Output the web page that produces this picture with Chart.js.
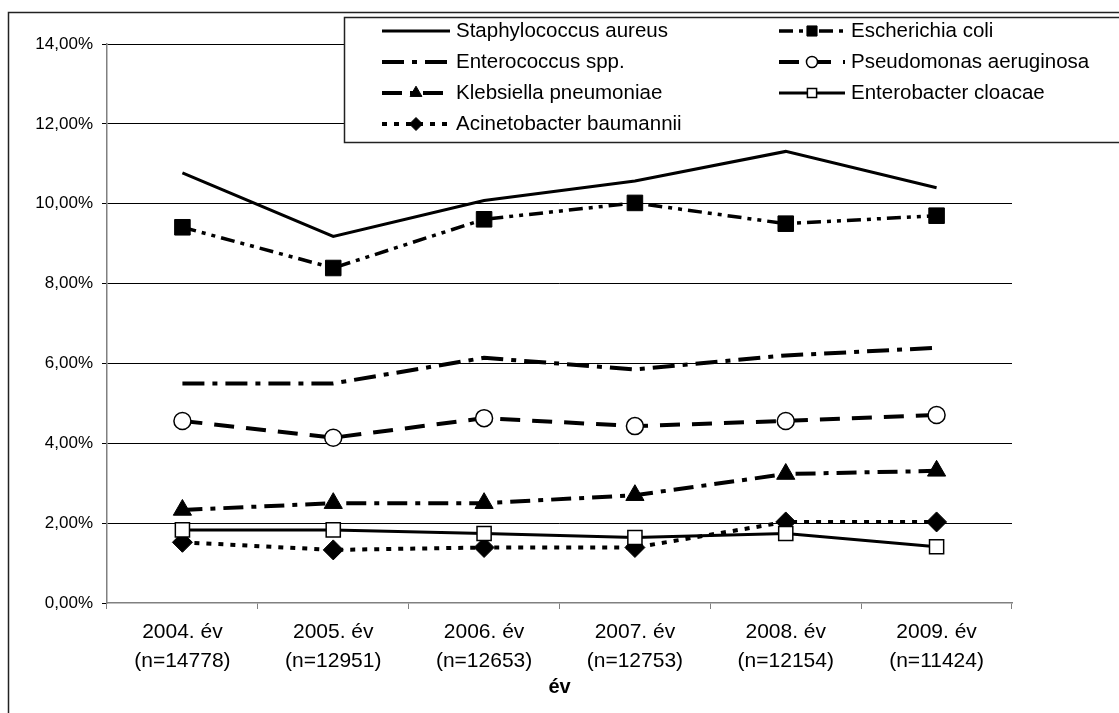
<!DOCTYPE html>
<html lang="hu">
<head>
<meta charset="utf-8">
<title>Kórokozók aránya évenként</title>
<script src="https://cdn.jsdelivr.net/npm/chart.js@4.4.1/dist/chart.umd.min.js"></script>
<style>
    html, body { margin: 0; padding: 0; background: #fff; overflow: hidden; }
    canvas { display: block; }
</style>
</head>
<body>
<canvas id="grafikon" width="1119" height="713"></canvas>
<script>
// =========================
// ADATOK (%)
// =========================
const evek = ['2004. év', '2005. év', '2006. év', '2007. év', '2008. év', '2009. év'];
const esetszamok = ['(n=14778)', '(n=12951)', '(n=12653)', '(n=12753)', '(n=12154)', '(n=11424)'];
const yTickErtekek = [0, 2, 4, 6, 8, 10, 12, 14];

const staphylococcus = [10.77, 9.18, 10.08, 10.57, 11.31, 10.40];
const escherichia = [9.41, 8.39, 9.61, 10.02, 9.50, 9.70];
const enterococcus = [5.50, 5.50, 6.14, 5.85, 6.20, 6.39];
const pseudomonas = [4.56, 4.14, 4.63, 4.43, 4.56, 4.71];
const klebsiella = [2.33, 2.50, 2.50, 2.70, 3.23, 3.31];
const enterobacter = [1.83, 1.83, 1.74, 1.64, 1.74, 1.41];
const acinetobacter = [1.52, 1.33, 1.39, 1.39, 2.03, 2.03];

const betu = '"Liberation Sans", Arial, sans-serif';

// =========================
// JELMAGYARÁZAT + KERET
// =========================
const jelmagyarazat = {
    id: 'jelmagyarazat',
    afterDraw(chart) {
        const ctx = chart.ctx;
        ctx.save();

        // külső keret
        ctx.strokeStyle = '#222';
        ctx.lineWidth = 1.5;
        ctx.strokeRect(8.5, 12.5, 1400, 1000);

        // doboz
        ctx.fillStyle = '#fff';
        ctx.fillRect(344, 17, 900, 126);
        ctx.strokeRect(344.5, 17.5, 900, 125);

        ctx.font = '20.5px ' + betu;
        ctx.textBaseline = 'middle';
        ctx.textAlign = 'left';

        chart.data.datasets.forEach((ds, i) => {
            const oszlop = i % 2;
            const sor = Math.floor(i / 2);
            const x0 = oszlop ? 779 : 382;
            const x1 = oszlop ? 845 : 450;
            const y = 31 + sor * 31;

            ctx.beginPath();
            ctx.setLineDash(ds.borderDash || []);
            ctx.lineWidth = ds.borderWidth;
            ctx.strokeStyle = ds.borderColor;
            ctx.moveTo(x0, y);
            ctx.lineTo(x1, y);
            ctx.stroke();
            ctx.setLineDash([]);

            if (ds.pointRadius > 0) {
                ctx.fillStyle = ds.pointBackgroundColor;
                ctx.strokeStyle = ds.pointBorderColor;
                ctx.lineWidth = ds.pointBorderWidth;
                Chart.helpers.drawPoint(ctx, {
                    pointStyle: ds.pointStyle,
                    radius: ds.pointRadius * 0.65,
                    borderWidth: ds.pointBorderWidth,
                    rotation: 0
                }, (x0 + x1) / 2, y);
            }

            ctx.fillStyle = '#000';
            ctx.fillText(ds.label, x1 + 6, y);
        });
        ctx.restore();
    }
};

// =========================
// GRAFIKON
// =========================
const ctx = document.getElementById('grafikon').getContext('2d');

new Chart(ctx, {
    type: 'line',
    data: {
        labels: evek.map((ev, i) => [ev, esetszamok[i]]),
        datasets: [
            {
                label: 'Staphylococcus aureus',
                data: staphylococcus,
                borderColor: '#000',
                borderWidth: 3,
                pointRadius: 0
            },
            {
                label: 'Escherichia coli',
                data: escherichia,
                borderColor: '#000',
                borderWidth: 3.5,
                borderDash: [14, 6, 4, 6, 4, 6],
                pointStyle: 'rect',
                pointRadius: 11,
                pointBackgroundColor: '#000',
                pointBorderColor: '#000',
                pointBorderWidth: 1
            },
            {
                label: 'Enterococcus spp.',
                data: enterococcus,
                borderColor: '#000',
                borderWidth: 4,
                borderDash: [22, 8, 5, 8],
                pointRadius: 0
            },
            {
                label: 'Pseudomonas aeruginosa',
                data: pseudomonas,
                borderColor: '#000',
                borderWidth: 4,
                borderDash: [20, 12],
                pointStyle: 'circle',
                pointRadius: 8.5,
                pointBackgroundColor: '#fff',
                pointBorderColor: '#000',
                pointBorderWidth: 1.5
            },
            {
                label: 'Klebsiella pneumoniae',
                data: klebsiella,
                borderColor: '#000',
                borderWidth: 4,
                borderDash: [20, 8, 5, 8],
                pointStyle: 'triangle',
                pointRadius: 10.5,
                pointBackgroundColor: '#000',
                pointBorderColor: '#000',
                pointBorderWidth: 1
            },
            {
                label: 'Enterobacter cloacae',
                data: enterobacter,
                borderColor: '#000',
                borderWidth: 3,
                pointStyle: 'rect',
                pointRadius: 10,
                pointBackgroundColor: '#fff',
                pointBorderColor: '#000',
                pointBorderWidth: 1.5
            },
            {
                label: 'Acinetobacter baumannii',
                data: acinetobacter,
                borderColor: '#000',
                borderWidth: 4,
                borderDash: [5, 7],
                pointStyle: 'rectRot',
                pointRadius: 10,
                pointBackgroundColor: '#000',
                pointBorderColor: '#000',
                pointBorderWidth: 1
            }
        ]
    },
    options: {
        responsive: false,
        animation: false,
        layout: { padding: { left: 0, top: 44, right: 107, bottom: 0 } },
        plugins: {
            legend: { display: false },
            tooltip: { enabled: false }
        },
        elements: { line: { tension: 0, fill: false } },
        scales: {
            x: {
                offset: true,
                afterFit: s => { s.height = 110; },
                grid: {
                    offset: true,
                    drawOnChartArea: false,
                    tickLength: 6,
                    color: '#808080'
                },
                border: { color: '#808080', width: 1.5 },
                ticks: {
                    color: '#000',
                    font: { family: betu, size: 21, lineHeight: 1.38 },
                    padding: 9,
                    maxRotation: 0,
                    autoSkip: false
                },
                title: {
                    display: true,
                    text: 'év',
                    color: '#000',
                    font: { family: betu, size: 20, weight: 'bold' },
                    padding: { top: 0, bottom: 14 }
                }
            },
            y: {
                min: yTickErtekek[0],
                max: yTickErtekek[yTickErtekek.length - 1],
                afterFit: s => { s.width = 107; },
                afterBuildTicks: s => { s.ticks = yTickErtekek.map(v => ({ value: v })); },
                grid: {
                    color: c => (c.tick && c.tick.value === 0) ? 'rgba(0,0,0,0)' : '#000',
                    lineWidth: 1,
                    tickLength: 5,
                    tickColor: '#000'
                },
                border: { color: '#808080', width: 1.5 },
                ticks: {
                    color: '#000',
                    font: { family: betu, size: 17 },
                    padding: 9,
                    callback: v => v.toFixed(2).replace('.', ',') + '%'
                }
            }
        }
    },
    plugins: [jelmagyarazat]
});
</script>
</body>
</html>
